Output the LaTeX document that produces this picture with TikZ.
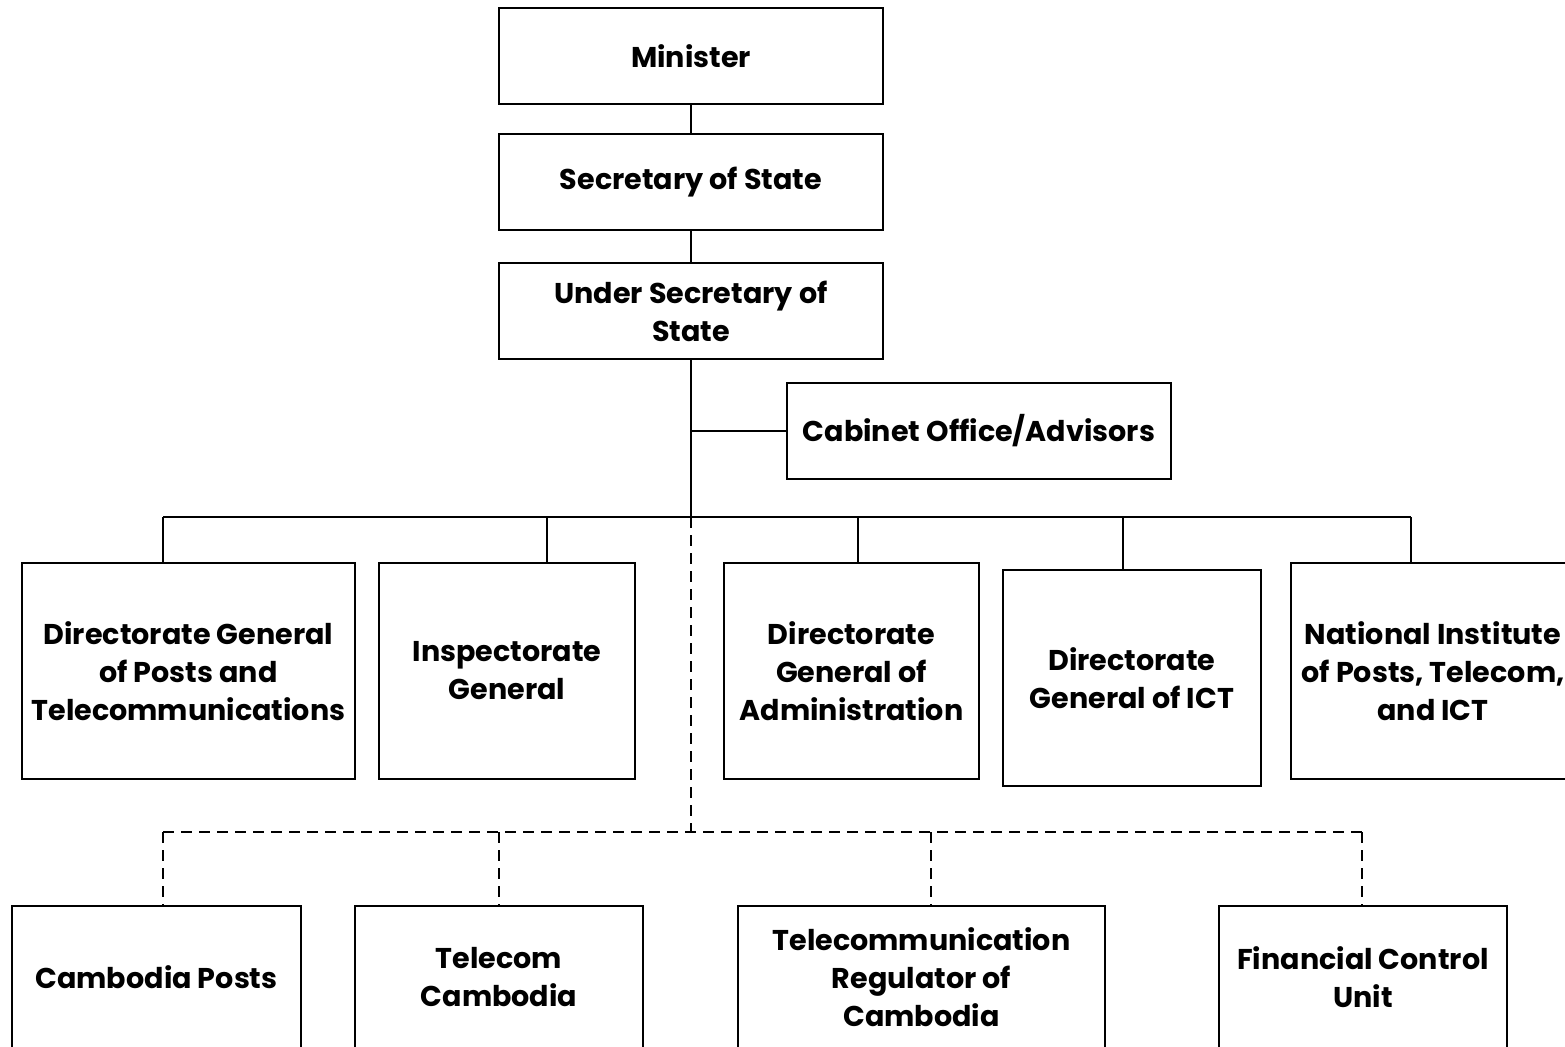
\documentclass[tikz,border=0pt]{standalone}
\usepackage{fontspec}
\setmainfont{Poppins}
\usepackage{tikz}
\usetikzlibrary{positioning}

\tikzset{
	unit/.style={draw, line width=1pt, align=center, inner sep=0pt,
		font=\fontsize{14.3}{19}\selectfont\bfseries},
	toprow/.style={unit, minimum width=192pt, minimum height=48pt},
	midrow/.style={unit, minimum height=108pt},
	lowrow/.style={unit, minimum height=71pt},
	link/.style={line width=1pt},
	dashlink/.style={line width=1pt, dash pattern=on 5.5pt off 3.5pt}
}

\begin{document}
\begin{tikzpicture}[x=0.5pt, y=-0.5pt]
	\useasboundingbox (0,0) rectangle (1565,1046);
	\clip (0,0) rectangle (1565,1046);
	% top of the chart
	\node[toprow] (minister) at (691,56) {Minister};
	\node[toprow] (secstate) at (691,182) {Secretary of State};
	\node[toprow] (undersec) at (691,311) {Under Secretary of\\State};
	\node[toprow] (cabinet) at (979,431) {Cabinet Office/Advisors};
	% directorates
	\node[midrow, minimum width=166.5pt] (dgpt) at (188.5,671) {Directorate General\\of Posts and\\Telecommunications};
	\node[midrow, minimum width=128pt] (inspect) at (507,671) {Inspectorate\\General};
	\node[midrow, minimum width=127.5pt] (dgadmin) at (851.5,671) {Directorate\\General of\\Administration};
	\node[midrow, minimum width=129pt] (dgict) at (1132,678) {Directorate\\General of ICT};
	\node[midrow, minimum width=142pt] (nipt) at (1433,671) {National Institute\\of Posts, Telecom,\\and ICT};
	% state owned bodies
	\node[lowrow, minimum width=144.5pt] (posts) at (156.5,977) {Cambodia Posts};
	\node[lowrow, minimum width=144pt] (telecom) at (499,977) {Telecom\\Cambodia};
	\node[lowrow, minimum width=183.5pt] (trc) at (921.5,977) {Telecommunication\\Regulator of\\Cambodia};
	\node[lowrow, minimum width=144pt] (fcu) at (1363,977) {Financial Control\\Unit};
	% connectors
	\coordinate (bus) at (691,517);
	\coordinate (dbus) at (691,832);
	\draw[link] (minister) -- (secstate);
	\draw[link] (secstate) -- (undersec);
	\draw[link] (undersec) -- (bus);
	\draw[link] (bus |- cabinet.west) -- (cabinet.west);
	\draw[link] (163,517) -- (1411,517);
	\foreach \x/\n in {163/dgpt, 547/inspect, 858/dgadmin, 1123/dgict, 1411/nipt}
		\draw[link] (\x,517) -- (\x,0 |- \n.north);
	\draw[dashlink] (bus) -- (dbus);
	\draw[dashlink] (163,832) -- (1362,832);
	\foreach \x/\n in {163/posts, 499/telecom, 931/trc, 1362/fcu}
		\draw[dashlink] (\x,832) -- (\x,0 |- \n.north);
\end{tikzpicture}
\end{document}
